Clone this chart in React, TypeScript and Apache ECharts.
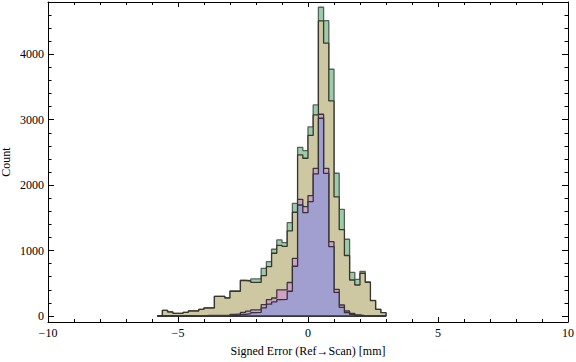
import React, { useEffect, useRef } from "react";
import * as echarts from "echarts";

// Histogram bins: 44 bins of width 0.2 starting at -5.8 (mm)
const binStart = -5.8;
const binWidth = 0.2;

// Visible layers (counts per bin)
const greenCounts = [
  8, 87, 61, 41, 41, 56, 76, 76, 102, 122, 122, 301, 301, 275, 385, 385, 548, 540, 566, 566,
  729, 830, 1020, 1162, 1120, 1427, 1723, 2579, 2527, 2890, 3226, 4720, 4515, 3772, 2182, 1631,
  1173, 668, 561, 683, 522, 240, 102, 50,
];
const tanCounts = [
  8, 87, 61, 41, 41, 56, 76, 76, 102, 122, 122, 301, 301, 275, 377, 377, 540, 535, 515, 515,
  616, 754, 959, 1080, 1065, 1300, 1586, 2462, 2411, 2760, 3073, 4511, 4170, 3287, 1820, 1320,
  925, 550, 474, 653, 515, 234, 102, 50,
];
const pinkCounts = [
  0, 0, 0, 0, 0, 5, 5, 3, 3, 10, 10, 10, 10, 10, 25, 30, 55, 75, 92, 92,
  175, 250, 275, 400, 400, 512, 882, 1784, 1671, 1839, 2258, 3084, 2258, 1136, 408, 168,
  76, 41, 15, 5, 3, 0, 0, 0,
];
const blueCounts = [
  0, 0, 0, 0, 0, 0, 0, 0, 0, 3, 3, 3, 3, 3, 10, 12, 25, 35, 50, 55,
  125, 180, 215, 250, 255, 378, 760, 1697, 1579, 1748, 2171, 3023, 2180, 1060, 360, 133,
  50, 26, 8, 3, 0, 0, 0, 0,
];

// Axis ticks
const xMajorTicks = [-10, -5, 0, 5, 10];
const xMinorTicks = [-9, -8, -7, -6, -4, -3, -2, -1, 1, 2, 3, 4, 6, 7, 8, 9];
const yMajorTicks = [0, 1000, 2000, 3000, 4000];
const yMinorTicks = [200, 400, 600, 800, 1200, 1400, 1600, 1800, 2200, 2400, 2600, 2800, 3200, 3400, 3600, 3800, 4200, 4400, 4600];

const xMin = -10;
const xMax = 10;
const yMin = -92;
const yMax = 4800;

const FONT = "'Liberation Serif', 'Times New Roman', 'DejaVu Serif', serif";

function stepData(counts: number[]): number[][] {
  const n = counts.length;
  const edge = (i: number) => +(binStart + i * binWidth).toFixed(4);
  const pts: number[][] = [[edge(0), 0]];
  counts.forEach((c, i) => pts.push([edge(i), c]));
  pts.push([edge(n), counts[n - 1]]);
  pts.push([edge(n), 0]);
  pts.push([edge(0), 0]);
  return pts;
}

const fmt = (v: number) => String(v).replace("-", "\u2212");

export default function App() {
  const ref = useRef<HTMLDivElement>(null);
  useEffect(() => {
    if (!ref.current) return;
    const chart = echarts.init(ref.current, undefined, { renderer: "svg" });
    const lineCol = "#000";
    const xBase = { type: "value", min: xMin, max: xMax, splitLine: { show: false } };
    const yBase = { type: "value", min: yMin, max: yMax, splitLine: { show: false } };
    const layer = (name: string, counts: number[], fill: string, stroke: string, z: number) => ({
      name,
      type: "line",
      step: "end",
      data: stepData(counts),
      symbol: "none",
      showSymbol: false,
      silent: true,
      z,
      lineStyle: { color: stroke, width: 1.3 },
      areaStyle: { color: fill, opacity: 1 },
    });
    chart.setOption({
      animation: false,
      grid: { left: 48, right: 8, top: 2, bottom: 40, containLabel: false, outerBoundsMode: "none" },
      xAxis: [
        {
          ...xBase,
          position: "bottom",
          axisLine: { show: true, onZero: false, lineStyle: { color: lineCol, width: 1 } },
          axisTick: { show: true, inside: true, length: 5, customValues: xMajorTicks, lineStyle: { color: lineCol } },
          axisLabel: { customValues: xMajorTicks, formatter: fmt, margin: 5, fontSize: 12, color: "#000", fontFamily: FONT },
          name: "Signed Error (Ref\u2192Scan) [mm]",
          nameLocation: "middle",
          nameGap: 23,
          nameTextStyle: { fontSize: 12, color: "#000", fontFamily: FONT },
        },
        {
          ...xBase,
          position: "bottom",
          axisLine: { show: false, onZero: false },
          axisTick: { show: true, inside: true, length: 3, customValues: xMinorTicks, lineStyle: { color: lineCol } },
          axisLabel: { show: false },
        },
        {
          ...xBase,
          position: "top",
          axisLine: { show: true, onZero: false, lineStyle: { color: lineCol, width: 1 } },
          axisTick: { show: true, inside: true, length: 5, customValues: xMajorTicks, lineStyle: { color: lineCol } },
          axisLabel: { show: false },
        },
        {
          ...xBase,
          position: "top",
          axisLine: { show: false, onZero: false },
          axisTick: { show: true, inside: true, length: 3, customValues: xMinorTicks, lineStyle: { color: lineCol } },
          axisLabel: { show: false },
        },
      ],
      yAxis: [
        {
          ...yBase,
          position: "left",
          axisLine: { show: true, onZero: false, lineStyle: { color: lineCol, width: 1 } },
          axisTick: { show: true, inside: true, length: 6, customValues: yMajorTicks, lineStyle: { color: lineCol } },
          axisLabel: { customValues: yMajorTicks, formatter: fmt, margin: 4, fontSize: 12, color: "#000", fontFamily: FONT },
          name: "Count",
          nameLocation: "middle",
          nameGap: 36,
          nameMoveOverlap: false,
          nameTextStyle: { fontSize: 12, color: "#000", fontFamily: FONT },
        },
        {
          ...yBase,
          position: "left",
          axisLine: { show: false, onZero: false },
          axisTick: { show: true, inside: true, length: 3.5, customValues: yMinorTicks, lineStyle: { color: lineCol } },
          axisLabel: { show: false },
        },
        {
          ...yBase,
          position: "right",
          axisLine: { show: true, onZero: false, lineStyle: { color: lineCol, width: 1 } },
          axisTick: { show: true, inside: true, length: 6, customValues: yMajorTicks, lineStyle: { color: lineCol } },
          axisLabel: { show: false },
        },
        {
          ...yBase,
          position: "right",
          axisLine: { show: false, onZero: false },
          axisTick: { show: true, inside: true, length: 3.5, customValues: yMinorTicks, lineStyle: { color: lineCol } },
          axisLabel: { show: false },
        },
      ],
      series: [
        layer("green", greenCounts, "#9ccda9", "#56615a", 2),
        layer("tan", tanCounts, "#cdc8a2", "#36362f", 3),
        layer("pink", pinkCounts, "#cfa1c5", "#3e3440", 4),
        layer("blue", blueCounts, "#a19fd0", "#333338", 5),
      ],
    });
    return () => chart.dispose();
  }, []);
  return (
    <div
      ref={ref}
      style={{ position: "absolute", left: 0, top: 0, width: 576, height: 362, background: "#fff" }}
    />
  );
}
